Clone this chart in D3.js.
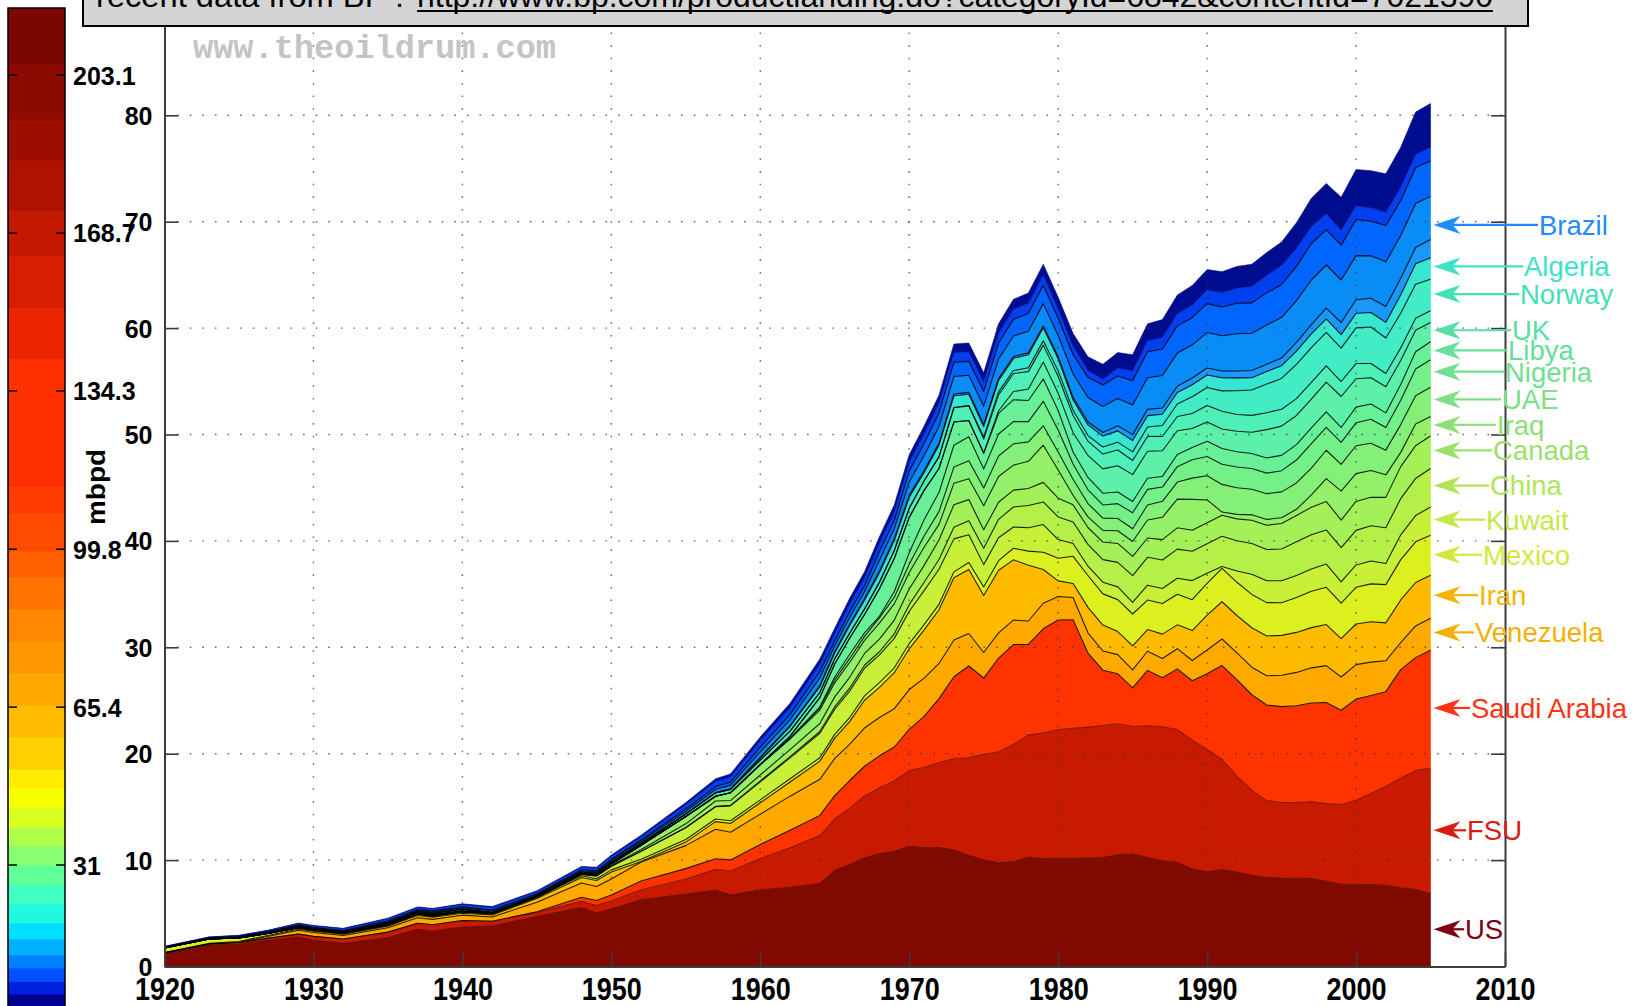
<!DOCTYPE html>
<html>
<head>
<meta charset="utf-8">
<script src="https://cdn.jsdelivr.net/npm/d3@7"></script>
<style>
  html, body { margin: 0; padding: 0; background: #ffffff; }
  svg { display: block; font-family: "Liberation Sans", Arial, Helvetica, sans-serif; }
</style>
</head>
<body>
<svg id="chart" width="1635" height="1006"></svg>
<script>
// ---------------------------------------------------------------------------
// Oil production by country, million barrels per day (stacked)
// ---------------------------------------------------------------------------
const years = [1920,1923,1925,1927,1929,1930,1932,1935,1937,1938,1940,1942,1945,1948,1949,1950,1952,1955,1957,1958,1960,1962,1964,
  1965,1966,1967,1968,1969,1970,1971,1972,1973,1974,1975,1976,1977,1978,1979,1980,1981,1982,1983,1984,1985,1986,1987,1988,1989,
  1990,1991,1992,1993,1994,1995,1996,1997,1998,1999,2000,2001,2002,2003,2004,2005];

const US = [1.21,2.01,2.09,2.46,2.76,2.46,2.15,2.73,3.50,3.33,3.71,3.80,4.70,5.53,5.05,5.41,6.26,6.81,7.17,6.71,7.20,7.45,7.80,
  9.01,9.58,10.22,10.60,10.83,11.30,11.16,11.18,10.95,10.46,10.01,9.74,9.86,10.27,10.14,10.17,10.18,10.20,10.25,10.51,10.58,10.23,9.94,9.77,9.16,
  8.91,9.08,8.87,8.58,8.39,8.32,8.30,8.27,8.01,7.73,7.73,7.67,7.63,7.40,7.23,6.83];
const FSU = [0.07,0.10,0.14,0.21,0.28,0.37,0.44,0.50,0.57,0.59,0.60,0.44,0.39,0.59,0.67,0.76,0.95,1.42,1.96,2.26,2.96,3.72,4.50,
  4.85,5.30,5.80,6.20,6.60,7.13,7.54,8.00,8.58,9.18,9.90,10.45,11.00,11.50,11.80,12.10,12.20,12.30,12.40,12.30,12.00,12.40,12.60,12.50,12.10,
  11.50,10.40,9.00,8.00,7.20,7.10,7.10,7.20,7.30,7.50,7.90,8.60,9.30,10.30,11.20,11.80];
const SaudiArabia = [0,0,0,0,0,0,0,0,0,0.001,0.014,0.012,0.058,0.39,0.48,0.55,0.82,0.97,0.99,1.05,1.31,1.64,1.90,
  2.20,2.60,2.80,3.00,3.20,3.85,4.80,6.00,7.70,8.60,7.20,8.80,9.40,8.50,9.80,10.30,10.20,6.96,5.20,4.70,3.60,5.20,4.60,5.70,5.60,
  7.10,8.80,9.10,8.96,8.99,9.00,9.10,9.30,9.50,8.85,9.50,9.20,8.90,10.20,10.60,11.10];
const Venezuela = [0.001,0.012,0.054,0.17,0.37,0.37,0.32,0.41,0.51,0.51,0.50,0.40,0.89,1.34,1.32,1.50,1.80,2.16,2.78,2.60,2.85,3.20,3.39,
  3.50,3.40,3.60,3.60,3.60,3.75,3.60,3.30,3.45,3.06,2.40,2.37,2.30,2.20,2.40,2.20,2.10,1.90,1.80,1.80,1.70,1.80,1.80,1.90,1.90,
  2.24,2.50,2.50,2.59,2.75,2.96,3.14,3.30,3.47,3.13,3.24,3.14,2.90,2.55,2.98,3.00];
const Iran = [0.033,0.06,0.07,0.10,0.115,0.125,0.135,0.155,0.21,0.21,0.18,0.20,0.36,0.52,0.56,0.66,0.03,0.33,0.72,0.82,1.07,1.33,1.71,
  1.90,2.13,2.60,2.84,3.38,3.83,4.54,5.05,5.86,6.02,5.35,5.88,5.66,5.24,3.17,1.47,1.32,2.39,2.44,2.17,2.25,2.04,2.30,2.24,2.81,
  3.27,3.50,3.52,3.71,3.73,3.74,3.76,3.78,3.86,3.60,3.82,3.79,3.57,4.00,4.08,4.05];
const Mexico = [0.43,0.41,0.32,0.18,0.12,0.11,0.09,0.11,0.13,0.10,0.12,0.10,0.12,0.16,0.17,0.20,0.21,0.25,0.24,0.26,0.27,0.31,0.32,
  0.36,0.37,0.41,0.44,0.46,0.49,0.49,0.51,0.55,0.65,0.81,0.90,1.09,1.33,1.63,2.13,2.55,3.00,2.93,3.00,3.00,2.77,2.88,2.88,2.90,
  2.98,3.13,3.12,3.13,3.14,3.07,3.28,3.41,3.50,3.34,3.45,3.56,3.59,3.79,3.82,3.76];
const Kuwait = [0,0,0,0,0,0,0,0,0,0,0,0,0,0.13,0.25,0.34,0.75,1.10,1.16,1.40,1.69,1.96,2.30,
  2.37,2.50,2.60,2.60,2.77,3.04,3.20,3.30,3.10,2.60,2.10,2.15,2.00,2.20,2.60,1.76,1.20,0.87,1.10,1.20,1.10,1.40,1.40,1.50,1.80,
  0.96,0.19,1.06,1.90,2.06,2.06,2.06,2.10,2.18,2.00,2.10,2.15,1.99,2.33,2.47,2.64];
const China = [0,0,0,0,0,0,0,0,0,0,0,0,0,0,0,0.002,0.009,0.02,0.03,0.045,0.10,0.11,0.17,
  0.23,0.29,0.28,0.30,0.43,0.62,0.79,0.91,1.09,1.32,1.54,1.74,1.88,2.08,2.12,2.12,2.03,2.05,2.12,2.30,2.50,2.62,2.69,2.74,2.76,
  2.77,2.83,2.84,2.89,2.93,2.99,3.17,3.21,3.21,3.21,3.25,3.31,3.35,3.41,3.49,3.63];
const Canada = [0.001,0.001,0.001,0.001,0.003,0.004,0.003,0.004,0.008,0.02,0.02,0.03,0.02,0.03,0.06,0.08,0.17,0.35,0.50,0.45,0.55,0.67,0.75,
  0.92,1.01,1.11,1.19,1.29,1.47,1.58,1.83,2.11,1.99,1.74,1.60,1.58,1.60,1.84,1.76,1.61,1.59,1.65,1.78,1.81,1.81,1.91,2.00,1.97,
  1.97,1.98,2.06,2.18,2.28,2.40,2.48,2.59,2.67,2.60,2.72,2.68,2.86,3.00,3.08,3.05];
const Iraq = [0,0,0,0.001,0.001,0.002,0.002,0.075,0.085,0.09,0.07,0.05,0.09,0.07,0.08,0.14,0.39,0.69,0.45,0.73,0.97,1.00,1.26,
  1.32,1.39,1.23,1.50,1.52,1.55,1.70,1.47,2.02,1.97,2.26,2.42,2.35,2.56,3.49,2.65,0.90,1.00,1.10,1.20,1.40,1.70,2.10,2.70,2.90,
  2.15,0.30,0.42,0.51,0.55,0.53,0.58,1.16,2.15,2.72,2.61,2.52,2.12,1.34,2.03,1.83];
const UAE = [0,0,0,0,0,0,0,0,0,0,0,0,0,0,0,0,0,0,0,0,0,0.014,0.19,
  0.28,0.36,0.38,0.50,0.63,0.78,1.06,1.20,1.53,1.68,1.66,1.93,2.00,1.83,1.83,1.70,1.50,1.25,1.15,1.15,1.20,1.40,1.50,1.60,2.00,
  2.28,2.60,2.50,2.40,2.42,2.44,2.48,2.52,2.67,2.51,2.62,2.55,2.32,2.61,2.67,2.75];
const Nigeria = [0,0,0,0,0,0,0,0,0,0,0,0,0,0,0,0,0,0,0,0.005,0.017,0.07,0.12,
  0.27,0.42,0.32,0.14,0.54,1.08,1.53,1.82,2.05,2.26,1.78,2.07,2.09,1.90,2.30,2.06,1.43,1.29,1.24,1.39,1.50,1.47,1.34,1.45,1.72,
  1.81,1.89,1.96,1.96,1.93,1.99,2.15,2.30,2.15,2.07,2.16,2.26,2.12,2.28,2.50,2.58];
const Libya = [0,0,0,0,0,0,0,0,0,0,0,0,0,0,0,0,0,0,0,0,0,0.18,0.86,
  1.22,1.50,1.74,2.60,3.10,3.32,2.76,2.24,2.18,1.52,1.48,1.93,2.06,1.98,2.09,1.83,1.14,1.16,1.10,1.09,1.06,1.05,1.00,1.14,1.15,
  1.42,1.48,1.43,1.40,1.43,1.44,1.45,1.49,1.45,1.40,1.47,1.43,1.38,1.49,1.62,1.70];
const UK = [0,0,0,0,0,0,0,0,0,0,0,0,0,0,0,0,0,0,0,0,0,0,0,
  0,0,0,0,0,0,0,0,0,0.002,0.03,0.25,0.77,1.08,1.60,1.62,1.81,2.07,2.29,2.48,2.53,2.54,2.41,2.23,1.80,
  1.82,1.83,1.92,2.00,2.66,2.75,2.74,2.70,2.81,2.91,2.67,2.48,2.46,2.26,2.03,1.81];
const Indonesia = [0.047,0.055,0.06,0.07,0.10,0.11,0.10,0.12,0.15,0.15,0.17,0.05,0.02,0.09,0.12,0.13,0.17,0.24,0.32,0.32,0.42,0.46,0.48,
  0.49,0.47,0.51,0.60,0.75,0.85,0.89,1.08,1.34,1.38,1.31,1.50,1.69,1.64,1.59,1.58,1.61,1.34,1.39,1.47,1.33,1.39,1.34,1.34,1.41,
  1.54,1.67,1.58,1.59,1.59,1.58,1.58,1.56,1.52,1.41,1.43,1.34,1.25,1.18,1.13,1.09];
const Norway = [0,0,0,0,0,0,0,0,0,0,0,0,0,0,0,0,0,0,0,0,0,0,0,
  0,0,0,0,0,0,0.006,0.03,0.03,0.035,0.19,0.28,0.28,0.36,0.40,0.53,0.50,0.53,0.66,0.74,0.81,0.89,1.03,1.18,1.56,
  1.70,1.92,2.23,2.38,2.69,2.90,3.23,3.28,3.14,3.14,3.35,3.42,3.33,3.26,3.19,2.97];
const Algeria = [0,0,0,0,0,0,0,0,0,0,0,0,0,0,0,0,0,0,0,0.009,0.18,0.44,0.56,
  0.56,0.72,0.83,0.90,0.95,1.05,0.79,1.08,1.10,1.05,1.00,1.08,1.15,1.23,1.23,1.14,0.99,1.00,1.03,1.06,1.06,1.06,1.06,1.08,1.14,
  1.18,1.23,1.21,1.16,1.18,1.20,1.24,1.28,1.28,1.27,1.37,1.37,1.47,1.74,1.92,2.02];
const Brazil = [0,0,0,0,0,0,0,0,0,0,0,0,0,0,0,0.001,0.002,0.006,0.03,0.05,0.08,0.09,0.09,
  0.10,0.12,0.15,0.16,0.17,0.17,0.17,0.17,0.17,0.18,0.18,0.17,0.17,0.17,0.17,0.19,0.22,0.27,0.34,0.48,0.56,0.59,0.59,0.58,0.63,
  0.65,0.64,0.65,0.67,0.69,0.72,0.81,0.87,1.00,1.13,1.27,1.34,1.50,1.55,1.54,1.72];
// remaining producers, in four bands
const othersA = [0.02,0.03,0.04,0.06,0.08,0.07,0.08,0.10,0.10,0.11,0.12,0.13,0.10,0.13,0.14,0.17,0.18,0.25,0.31,0.34,0.52,0.57,0.73,
  0.56,0.65,0.66,1.01,0.95,1.25,1.42,1.58,1.64,1.61,1.71,1.84,1.93,2.04,2.10,1.99,2.22,2.31,2.45,2.57,2.78,2.98,3.05,3.12,3.12,
  3.33,3.31,3.50,3.50,3.69,3.80,3.93,4.20,4.06,4.00,4.15,3.98,4.19,4.02,4.14,4.05];
const othersB = [0.01,0.02,0.04,0.04,0.06,0.06,0.07,0.09,0.09,0.09,0.10,0.10,0.09,0.11,0.11,0.13,0.15,0.21,0.25,0.27,0.43,0.46,0.59,
  0.46,0.53,0.54,0.82,0.77,1.02,1.16,1.30,1.35,1.31,1.40,1.50,1.58,1.67,1.72,1.62,1.81,1.89,2.01,2.11,2.28,2.43,2.50,2.56,2.55,
  2.72,2.71,2.86,2.86,3.01,3.11,3.22,3.43,3.32,3.28,3.39,3.26,3.42,3.29,3.38,3.32];
const othersC = [0.05,0.06,0.09,0.10,0.14,0.13,0.15,0.19,0.19,0.20,0.22,0.24,0.20,0.24,0.24,0.28,0.31,0.40,0.48,0.50,0.60,0.65,0.70,
  0.70,0.72,0.74,0.78,0.80,0.85,0.87,0.88,0.90,0.90,0.90,0.92,0.94,0.96,0.98,0.90,0.80,0.65,0.55,0.75,0.95,1.05,1.10,1.15,1.20,
  1.30,1.35,1.45,1.55,1.65,1.80,1.70,1.60,1.50,1.40,1.30,1.25,1.25,1.25,1.25,1.30];
const othersD = [0.02,0.02,0.03,0.03,0.05,0.05,0.05,0.06,0.06,0.06,0.07,0.08,0.07,0.08,0.08,0.12,0.14,0.20,0.25,0.28,0.35,0.42,0.48,
  0.50,0.54,0.58,0.62,0.66,0.70,0.74,0.77,0.80,0.82,0.85,0.88,0.92,0.96,1.00,1.08,1.18,1.28,1.40,1.45,1.50,1.58,1.66,1.74,1.82,
  1.90,1.96,2.02,2.08,2.14,2.20,2.40,2.65,2.85,3.10,3.40,3.50,3.60,3.75,3.95,4.10];

// stacking order, bottom to top
const layerKeys = ["US","FSU","Saudi Arabia","Venezuela","Iran","Mexico","Kuwait","China","Canada","Iraq","UAE","Nigeria",
  "Libya","UK","Indonesia","Norway","Algeria","Brazil","othersA","othersB","othersC","othersD"];
const layerValues = {
  "US": US, "FSU": FSU, "Saudi Arabia": SaudiArabia, "Venezuela": Venezuela, "Iran": Iran, "Mexico": Mexico,
  "Kuwait": Kuwait, "China": China, "Canada": Canada, "Iraq": Iraq, "UAE": UAE, "Nigeria": Nigeria, "Libya": Libya,
  "UK": UK, "Indonesia": Indonesia, "Norway": Norway, "Algeria": Algeria, "Brazil": Brazil,
  "othersA": othersA, "othersB": othersB, "othersC": othersC, "othersD": othersD
};

// annotated countries and the level (mbpd) their arrows point at
const labelNames  = ["Brazil","Algeria","Norway","UK","Libya","Nigeria","UAE","Iraq","Canada","China","Kuwait","Mexico","Iran","Venezuela","Saudi Arabia","FSU","US"];
const labelLevels = [69.7, 65.8, 63.2, 59.8, 57.9, 55.9, 53.3, 50.9, 48.5, 45.2, 42.0, 38.7, 34.9, 31.4, 24.3, 12.8, 3.5];

// axis ticks
const xTicks = [1920,1930,1940,1950,1960,1970,1980,1990,2000,2010];
const yTicks = [0,10,20,30,40,50,60,70,80];

// colour bar (cumulative production scale)
const cbTicks = [31, 65.4, 99.8, 134.3, 168.7, 203.1];
const cbBreaks = [0,2.9,5.7,8.6,11.4,14.9,18.4,22.5,26.7,31.0,35.2,39.3,43.5,47.8,51.9,58.9,65.9,72.8,79.8,86.8,93.7,99.4,107.6,113.3,141.2,152.3,163.6,173.4,184.6,193.6,205.5,217.7];

// ---------------------------------------------------------------------------
// styling
// ---------------------------------------------------------------------------
const palette = {
  "US":"#800a00","FSU":"#c81a00","Saudi Arabia":"#ff3300","Venezuela":"#ffa800","Iran":"#ffbb00","Mexico":"#dcf020",
  "Kuwait":"#c8f038","China":"#b4f048","Canada":"#a4f058","Iraq":"#94f068","UAE":"#84f078","Nigeria":"#74f088",
  "Libya":"#68f098","UK":"#5cf0a8","Indonesia":"#4ef0b8","Norway":"#42ecc4","Algeria":"#36e6d0","Brazil":"#1a98fa",
  "othersA":"#0a8cf6","othersB":"#0066ff","othersC":"#0040ee","othersD":"#000c8e"
};
const labelColor = {
  "Brazil":"#1e8cff","Algeria":"#3ee2c4","Norway":"#44e0b4","UK":"#58e0a4","Libya":"#64e09a","Nigeria":"#70e08e",
  "UAE":"#7ce084","Iraq":"#8ee076","Canada":"#9ce06a","China":"#b0e45a","Kuwait":"#c4e84a","Mexico":"#d4e83c",
  "Iran":"#f4b400","Venezuela":"#f4b000","Saudi Arabia":"#ff3214","FSU":"#d81c14","US":"#7e0012"
};
const cbColors = ["#000090","#0020e0","#0050ff","#0080ff","#00b0ff","#00e0ff","#20f8e0","#40ffc0","#60ff98","#88ff70",
  "#b0ff48","#d8ff20","#f8ff00","#ffec00","#ffd000","#ffbc00","#ffa800","#ff9800","#ff8800","#ff7400","#ff6000",
  "#ff4c00","#ff3c00","#ff3000","#ec2400","#d81e00","#c41800","#b01200","#9c0e00","#8c0a00","#7a0800"];
// x where each label's text starts
const labelTextX = [1539,1524,1520,1512,1508,1505,1502,1497,1493,1490,1486,1483,1479,1475,1471,1467,1465];

const svg = d3.select("#chart");
const plot = { left: 164.5, right: 1505, bottom: 966.5 };
const x = d3.scaleLinear().domain([1920, 2010]).range([plot.left, plot.right]);
const y = d3.scaleLinear().domain([0, 90]).range([plot.bottom, plot.bottom - 90 * 10.64]);

// ---- stacked areas --------------------------------------------------------
const rows = years.map((yr, i) => {
  const r = { year: yr };
  layerKeys.forEach(k => { r[k] = layerValues[k][i]; });
  return r;
});
const stacked = d3.stack().keys(layerKeys)(rows);

const area = d3.area()
  .x(d => x(d.data.year))
  .y0(d => y(d[0]))
  .y1(d => y(d[1]));

const gArea = svg.append("g");
gArea.selectAll("path.layer")
  .data(stacked)
  .join("path")
  .attr("class", "layer")
  .attr("d", area)
  .attr("fill", d => palette[d.key])
  .attr("stroke", d => palette[d.key])
  .attr("stroke-width", 0.6);

// boundary lines along the top of each band
const topLine = d3.line().x(d => x(d.data.year)).y(d => y(d[1]));
const noEdge = new Set(["othersC", "othersD"]);
gArea.selectAll("path.edge")
  .data(stacked.filter(s => !noEdge.has(s.key)))
  .join("path")
  .attr("class", "edge")
  .attr("d", topLine)
  .attr("fill", "none")
  .attr("stroke", "#000")
  .attr("stroke-width", 1.1)
  .attr("stroke-opacity", d => (d.key === "US" || d.key === "FSU") ? 0.45 : 0.85)
  .attr("stroke-linejoin", "round");

// ---- dotted grid ----------------------------------------------------------
const gGrid = svg.append("g")
  .attr("stroke", "#3a3a3a")
  .attr("stroke-width", 1.4)
  .attr("stroke-dasharray", "1.6 11")
  .attr("stroke-opacity", 0.75);
gGrid.selectAll("line.h")
  .data(yTicks.filter(v => v > 0))
  .join("line")
  .attr("x1", plot.left).attr("x2", plot.right)
  .attr("y1", d => y(d)).attr("y2", d => y(d));
gGrid.selectAll("line.v")
  .data(xTicks.filter(v => v > 1920 && v < 2010))
  .join("line")
  .attr("x1", d => x(d)).attr("x2", d => x(d))
  .attr("y1", y(0)).attr("y2", y(90));

// ---- axes ------------------------------------------------------------------
const axisColor = "#3c3c3c";
const gy = svg.append("g")
  .attr("transform", `translate(${plot.left},0)`)
  .call(d3.axisLeft(y).tickValues(yTicks).tickSize(-14).tickSizeOuter(0).tickPadding(12));
gy.select(".domain").attr("stroke", axisColor).attr("stroke-width", 2);
gy.selectAll(".tick line").attr("stroke", axisColor).attr("stroke-width", 1.6);
gy.selectAll(".tick text")
  .attr("fill", "#000")
  .attr("font-size", 25)
  .attr("font-weight", "bold")
  .attr("font-family", "'Liberation Sans', Arial, sans-serif")
  .attr("dy", "0.36em");

const gyr = svg.append("g")
  .attr("transform", `translate(${plot.right},0)`)
  .call(d3.axisRight(y).tickValues(yTicks).tickSize(-14).tickSizeOuter(0).tickFormat(""));
gyr.select(".domain").attr("stroke", axisColor).attr("stroke-width", 2);
gyr.selectAll(".tick line").attr("stroke", axisColor).attr("stroke-width", 1.6);

const gx = svg.append("g")
  .attr("transform", `translate(0,${plot.bottom})`)
  .call(d3.axisBottom(x).tickValues(xTicks).tickFormat(d3.format("d")).tickSize(-14).tickSizeOuter(0).tickPadding(11));
gx.select(".domain").attr("stroke", axisColor).attr("stroke-width", 2);
gx.selectAll(".tick line").attr("stroke", axisColor).attr("stroke-width", 1.6);
gx.selectAll(".tick text")
  .attr("fill", "#000")
  .attr("font-size", 32)
  .attr("font-weight", "bold")
  .attr("font-family", "'Liberation Sans', Arial, sans-serif")
  .attr("dy", "0.71em")
  .attr("textLength", 60)
  .attr("lengthAdjust", "spacingAndGlyphs");

// y-axis title
svg.append("text")
  .attr("transform", "translate(105,487) rotate(-90)")
  .attr("text-anchor", "middle")
  .attr("font-size", 25)
  .attr("font-weight", "bold")
  .attr("textLength", 76)
  .attr("lengthAdjust", "spacingAndGlyphs")
  .text("mbpd");

// watermark
svg.append("text")
  .attr("x", 193).attr("y", 58)
  .attr("font-family", "'Liberation Mono', 'DejaVu Sans Mono', monospace")
  .attr("font-weight", "bold")
  .attr("font-size", 33)
  .attr("fill", "#c4c4c4")
  .attr("textLength", 363)
  .attr("lengthAdjust", "spacingAndGlyphs")
  .text("www.theoildrum.com");

// ---- country arrows and labels -------------------------------------------
const tipX = x(2005) + 3;
const gLab = svg.append("g");
labelNames.forEach((name, i) => {
  const yy = y(labelLevels[i]);
  const c = labelColor[name];
  const tx = labelTextX[i];
  gLab.append("line")
    .attr("x1", tipX + 18).attr("x2", tx - 1)
    .attr("y1", yy).attr("y2", yy)
    .attr("stroke", c).attr("stroke-width", 2.2);
  gLab.append("path")
    .attr("d", `M${tipX},${yy} L${tipX + 27},${yy - 9} L${tipX + 19},${yy} L${tipX + 27},${yy + 9} Z`)
    .attr("fill", c);
  gLab.append("text")
    .attr("x", tx).attr("y", yy)
    .attr("dy", "0.36em")
    .attr("font-size", 27.5)
    .attr("fill", c)
    .text(name);
});

// ---- source box ------------------------------------------------------------
svg.append("rect")
  .attr("x", 83).attr("y", -30)
  .attr("width", 1445).attr("height", 56)
  .attr("fill", "#d4d4d4")
  .attr("stroke", "#000").attr("stroke-width", 2);
svg.append("text")
  .attr("x", 96).attr("y", 7)
  .attr("font-size", 31)
  .attr("textLength", 308)
  .attr("lengthAdjust", "spacingAndGlyphs")
  .text("recent data from BP :");
svg.append("text")
  .attr("x", 417).attr("y", 7)
  .attr("font-size", 31)
  .attr("textLength", 1076)
  .attr("lengthAdjust", "spacingAndGlyphs")
  .text("http://www.bp.com/productlanding.do?categoryId=6842&contentId=7021390");
svg.append("line")
  .attr("x1", 417).attr("x2", 1493)
  .attr("y1", 11).attr("y2", 11)
  .attr("stroke", "#000").attr("stroke-width", 2);

// ---- colour bar ------------------------------------------------------------
const cb = d3.scaleLinear().domain([0, 217.7]).range([1007.3, 8]);
const gCb = svg.append("g");
const bands = d3.range(cbColors.length).map(i => ({ lo: cbBreaks[i], hi: cbBreaks[i + 1], color: cbColors[i] }));
gCb.selectAll("rect.band")
  .data(bands)
  .join("rect")
  .attr("class", "band")
  .attr("x", 8).attr("width", 57)
  .attr("y", d => cb(d.hi))
  .attr("height", d => cb(d.lo) - cb(d.hi) + 0.5)
  .attr("fill", d => d.color);
gCb.append("rect")
  .attr("x", 8).attr("y", 8).attr("width", 57).attr("height", 1010)
  .attr("fill", "none").attr("stroke", "#000").attr("stroke-width", 1.5);
const cbAxis = gCb.append("g")
  .attr("transform", "translate(65,0)")
  .call(d3.axisRight(cb).tickValues(cbTicks).tickSize(0).tickPadding(8).tickFormat(d => String(d)));
cbAxis.select(".domain").remove();
cbAxis.selectAll(".tick text")
  .attr("fill", "#000")
  .attr("font-size", 25)
  .attr("font-weight", "bold")
  .attr("font-family", "'Liberation Sans', Arial, sans-serif")
  .attr("dy", "0.36em");
gCb.selectAll("line.cbtick")
  .data(cbTicks.flatMap(v => [{ v, x1: 8, x2: 17 }, { v, x1: 56, x2: 65 }]))
  .join("line")
  .attr("x1", d => d.x1).attr("x2", d => d.x2)
  .attr("y1", d => cb(d.v)).attr("y2", d => cb(d.v))
  .attr("stroke", "#000").attr("stroke-width", 1.5);
</script>
</body>
</html>
